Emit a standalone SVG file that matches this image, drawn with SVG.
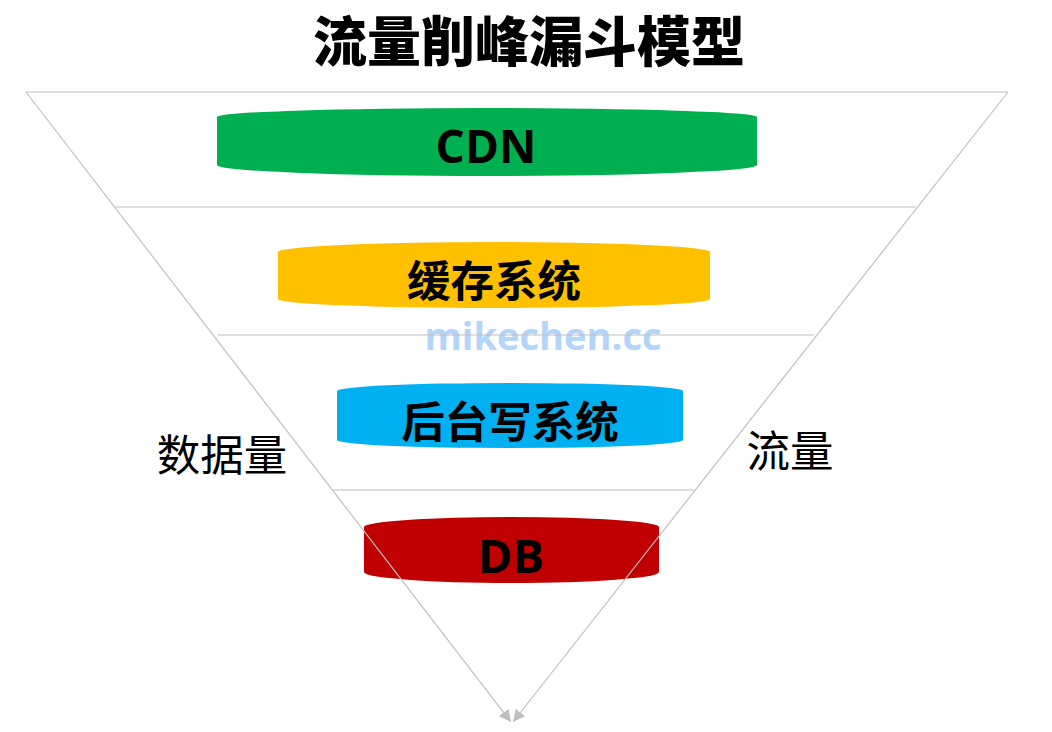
<svg xmlns="http://www.w3.org/2000/svg" width="1052" height="732" viewBox="0 0 1052 732">
  <style>
    .ln { stroke: #bfbfbf; stroke-width: 1.2; fill: none; }
    .lbl { font-family: "Open Sans", "Noto Sans CJK SC", sans-serif; font-weight: bold; fill: #000; text-anchor: middle; }
    .side { font-family: "Noto Sans CJK SC", sans-serif; font-size: 43.5px; fill: #000; text-anchor: middle; }
  </style>
  <defs>
    <marker id="ah" markerUnits="userSpaceOnUse" markerWidth="12" markerHeight="12" viewBox="0 0 12 12" refX="12" refY="6" orient="auto">
      <path d="M0,0 L12,6 L0,12 z" fill="#bfbfbf"/>
    </marker>
  </defs>
  <rect width="1052" height="732" fill="#fff"/>
  <text x="529" y="62" font-family="Noto Sans CJK SC, sans-serif" font-weight="900" font-size="54" text-anchor="middle" fill="#000">流量削峰漏斗模型</text>

  <g id="watermark">
    <text x="543" y="350" font-family="Open Sans, sans-serif" font-weight="bold" font-size="38" text-anchor="middle" fill="#b3d4fb" textLength="237" lengthAdjust="spacingAndGlyphs">mikechen.cc</text>
  </g>

  <g id="connectors">
    <line class="ln" x1="26" y1="92" x2="1008" y2="92"/>
    <line class="ln" x1="114" y1="207" x2="916" y2="207"/>
    <line class="ln" x1="218" y1="335" x2="814" y2="335"/>
    <line class="ln" x1="333" y1="490" x2="694" y2="490"/>
  </g>

  <g id="node-cdn">
    <path d="M217,117 A270,9 0 0 1 757,117 L757,165 A270,11 0 0 1 217,165 Z" fill="#00b050"/>
    <text class="lbl" x="486" y="163" font-size="46">CDN</text>
  </g>
  <g id="node-cache">
    <path d="M278,252 A216,10 0 0 1 710,252 L710,299 A216,9 0 0 1 278,299 Z" fill="#ffc000"/>
    <text class="lbl" x="494" y="297" font-size="43.5">缓存系统</text>
  </g>
  <g id="node-backend">
    <path d="M337,391 A173,8 0 0 1 683,391 L683,440 A173,8 0 0 1 337,440 Z" fill="#00b0f0"/>
    <text class="lbl" x="510" y="438" font-size="43.5">后台写系统</text>
  </g>
  <g id="node-db">
    <path d="M364,527 A147.5,10 0 0 1 659,527 L659,572 A147.5,11 0 0 1 364,572 Z" fill="#c00000"/>
    <text class="lbl" x="511" y="573" font-size="47">DB</text>
  </g>

  <g id="diagonals">
    <line class="ln" x1="26" y1="92" x2="511" y2="722" marker-end="url(#ah)"/>
    <line class="ln" x1="1008" y1="92" x2="513" y2="722" marker-end="url(#ah)"/>
  </g>

  <g id="side-labels">
    <text class="side" x="222" y="471">数据量</text>
    <text class="side" x="790" y="467">流量</text>
  </g>
</svg>
